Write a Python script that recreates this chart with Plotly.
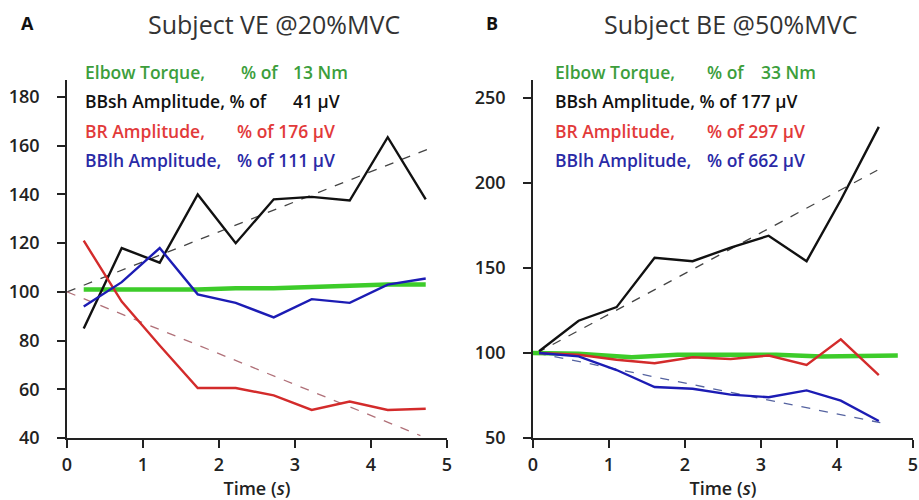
import plotly.graph_objects as go

# ---------------- data: panel A (Subject VE @20%MVC) ----------------
tA = [0.22, 0.72, 1.22, 1.72, 2.22, 2.72, 3.22, 3.72, 4.22, 4.72]
torqueA = [101, 101, 101, 101, 101.5, 101.5, 102, 102.5, 103, 103]
bbshA = [85, 118, 112, 140, 120, 138, 139, 137.5, 163.5, 138]
brA = [121, 96, 78, 60.5, 60.5, 57.5, 51.5, 55, 51.5, 52]
bblhA = [94, 104, 118, 99, 95.5, 89.5, 97, 95.5, 103, 105.5]
trend_tA = [0, 4.78]
trend_bbshA = [100, 159]
trend_tA_br = [0, 4.65]
trend_brA = [100, 41]

# ---------------- data: panel B (Subject BE @50%MVC) ----------------
tB = [0.08, 0.6, 1.1, 1.6, 2.1, 2.6, 3.1, 3.6, 4.05, 4.55]
tB_torque = [0.0, 0.6, 1.3, 1.9, 2.6, 3.2, 3.8, 4.3, 4.8]
torqueB = [100, 99.5, 97.5, 99, 99, 99, 98, 98, 98.5]
bbshB = [101, 119, 127, 156, 154, 162, 169, 154, 190, 233]
brB = [100, 99, 96, 94, 97.5, 96.5, 98.5, 93, 108, 87]
bblhB = [100, 98, 90, 80, 79, 75.5, 74, 78, 72, 60]
trend_tB = [0.05, 4.53]
trend_bbshB = [100, 207.5]
trend_tB_bl = [0.05, 4.57]
trend_bblhB = [100, 59]

xticks = [0, 1, 2, 3, 4, 5]
yticksA = [40, 60, 80, 100, 120, 140, 160, 180]
yticksB = [50, 100, 150, 200, 250]

titleA = "Subject VE @20%MVC"
titleB = "Subject BE @50%MVC"
legendA = [("Elbow Torque,", "% of", "13 Nm"),
           ("BBsh Amplitude, % of", "", "41 µV"),
           ("BR Amplitude,", "% of 176 µV", ""),
           ("BBlh Amplitude,", "% of 111 µV", "")]
legendB = [("Elbow Torque,", "% of", "33 Nm"),
           ("BBsh Amplitude, % of 177 µV", "", ""),
           ("BR Amplitude,", "% of 297 µV", ""),
           ("BBlh Amplitude,", "% of 662 µV", "")]

GREEN_LINE = "#3dcc2a"
GREEN_TXT = "#3c9e3c"
BLACK = "#111111"
RED_LINE = "#d32b2b"
RED_TXT = "#e23a3a"
BLUE_LINE = "#1c1cb4"
BLUE_TXT = "#2a2aa6"
FONT = "'Open Sans', Lato, sans-serif"

# page body margin is removed (see post_script), so the figure fills the window
W, H = 919, 500
ML, MR, MT, MB = 67, 6, 80, 62
PW = W - ML - MR
PH = H - MT - MB

def px(x):  # picture pixel -> paper fraction
    return (x - ML) / PW

def py(y):
    return (MT + PH - y) / PH

fig = go.Figure()

def line(x, y, color, width, xa, ya, dash=None):
    fig.add_trace(go.Scatter(x=x, y=y, mode="lines", xaxis=xa, yaxis=ya,
                             line=dict(color=color, width=width, dash=dash),
                             showlegend=False, hoverinfo="skip"))

# panel A
line(trend_tA, trend_bbshA, "#444444", 1.3, "x", "y", "dash")
line(trend_tA_br, trend_brA, "#b07078", 1.3, "x", "y", "dash")
line(tA, torqueA, GREEN_LINE, 4.5, "x", "y")
line(tA, bbshA, BLACK, 2.4, "x", "y")
line(tA, brA, RED_LINE, 2.4, "x", "y")
line(tA, bblhA, BLUE_LINE, 2.4, "x", "y")

# panel B
line(trend_tB, trend_bbshB, "#444444", 1.3, "x2", "y2", "dash")
line(trend_tB_bl, trend_bblhB, "#5563a0", 1.3, "x2", "y2", "dash")
line(tB_torque, torqueB, GREEN_LINE, 4.5, "x2", "y2")
line(tB, bbshB, BLACK, 2.4, "x2", "y2")
line(tB, brB, RED_LINE, 2.4, "x2", "y2")
line(tB, bblhB, BLUE_LINE, 2.4, "x2", "y2")

axis_common = dict(showline=True, linecolor="#222", linewidth=1.5,
                   ticks="outside", ticklen=8, tickwidth=1.5, tickcolor="#222",
                   showgrid=False, zeroline=False, automargin=False,
                   tickfont=dict(family=FONT, size=18, color="#222", weight=600))

split_left = px(447)
split_right = px(533)
xtitle = dict(text="Time (<i>s</i>)", font=dict(family=FONT, size=18, color="#222", weight=600), standoff=2)

fig.update_layout(
    width=W, height=H,
    margin=dict(l=ML, r=MR, t=MT, b=MB, autoexpand=False),
    plot_bgcolor="white", paper_bgcolor="white",
    xaxis=dict(domain=[0, split_left], range=[0, 5], tickvals=xticks, title=xtitle,
               ticklabelstandoff=2, anchor="y", **axis_common),
    yaxis=dict(domain=[0, 1], range=[40, 187], tickvals=yticksA, anchor="x",
               ticklabelstandoff=14, **axis_common),
    xaxis2=dict(domain=[split_right, 1], range=[0, 5], tickvals=xticks, title=xtitle,
                ticklabelstandoff=2, anchor="y2", **axis_common),
    yaxis2=dict(domain=[0, 1], range=[50, 260.6], tickvals=yticksB, anchor="x2",
                ticklabelstandoff=14, **axis_common),
)

ann = []

def text(x, y, s, color, size, weight=None, anchor="left", yanchor="middle"):
    f = dict(family=FONT, size=size, color=color)
    if weight:
        f["weight"] = weight
    ann.append(dict(xref="paper", yref="paper", x=px(x), y=py(y), text=s,
                    showarrow=False, xanchor=anchor, yanchor=yanchor, borderpad=0,
                    font=f))

text(20, 23, "A", "#111", 18, weight=700)
text(485, 23, "B", "#111", 18, weight=700)
text(274, 6, titleA, "#333", 25, anchor="center", yanchor="top")
text(730, 6, titleB, "#333", 25, anchor="center", yanchor="top")

colors = [GREEN_TXT, BLACK, RED_TXT, BLUE_TXT]
rows_y = [72, 101, 131, 160]
LS = 17.5

colsA = [84, 240, 292]
for (a, b, c), col, yy in zip(legendA, colors, rows_y):
    text(colsA[0], yy, a, col, LS, weight=600)
    if b:
        text(colsA[1] if not b.startswith("% of 1") else 236, yy, b, col, LS, weight=600)
    if c:
        text(colsA[2], yy, c, col, LS, weight=600)

colsB = [554, 706, 760]
for (a, b, c), col, yy in zip(legendB, colors, rows_y):
    text(colsB[0], yy, a, col, LS, weight=600)
    if b:
        text(colsB[1], yy, b, col, LS, weight=600)
    if c:
        text(colsB[2], yy, c, col, LS, weight=600)

fig.update_layout(annotations=ann)
fig.write_html(
    "out.html",
    config={"displayModeBar": False},
    post_script="document.body.style.margin='0';document.documentElement.style.overflow='hidden';",
)
